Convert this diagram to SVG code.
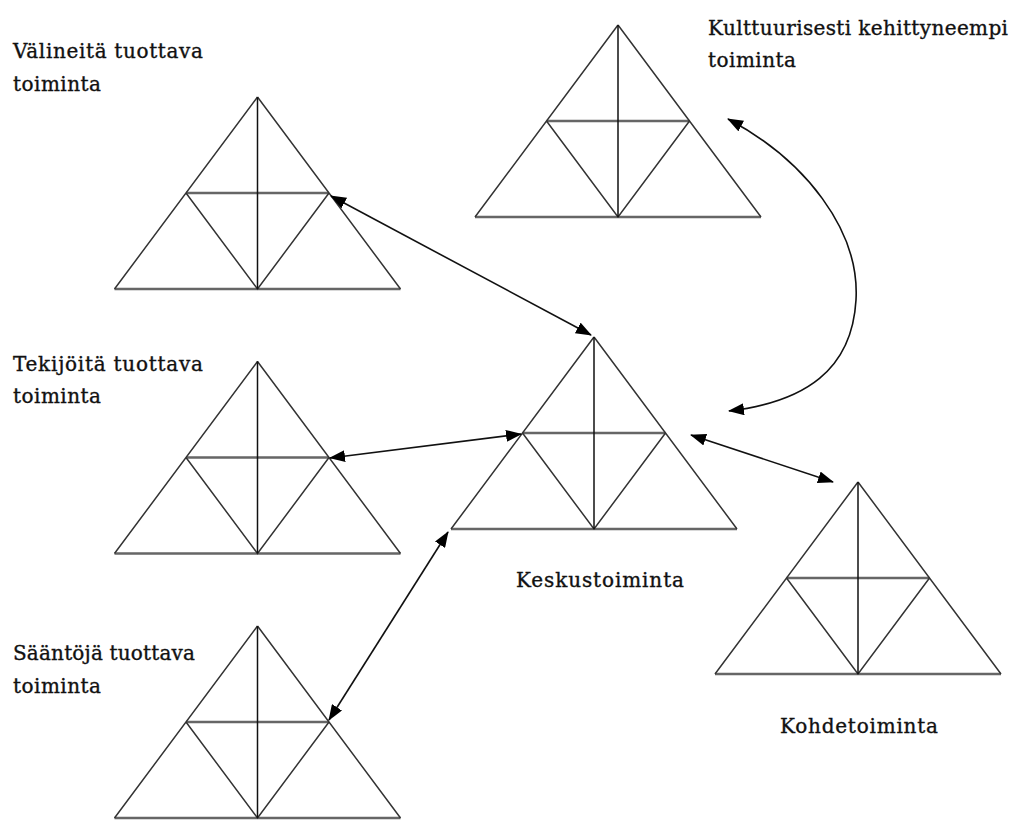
<svg xmlns="http://www.w3.org/2000/svg" xmlns:xlink="http://www.w3.org/1999/xlink" width="1016" height="820" viewBox="0 0 1016 820">
<style>
.side{stroke:#333;stroke-width:1.5;fill:none}
.hor{stroke:#666;stroke-width:2.4;fill:none}
.vert{stroke:#111;stroke-width:1.5;fill:none}
.lbl{font-family:"DejaVu Serif","Liberation Serif",serif;font-size:20px;fill:#111;stroke:#111;stroke-width:0.35}
.conn{stroke:#111;stroke-width:1.6;fill:none;marker-start:url(#ah);marker-end:url(#ah)}
</style>
<defs>
<marker id="ah" viewBox="0 0 16 12" refX="15" refY="6" markerWidth="16" markerHeight="12" markerUnits="userSpaceOnUse" orient="auto-start-reverse">
<path d="M0,0 L16,6 L0,12 z" fill="#000"/>
</marker>
<g id="tri">
<path class="hor" d="M-143,192 H143 M-71.5,96 H71.5"/>
<path class="side" d="M0,0 L-143,192 M0,0 L143,192 M-71.5,96 L0,192 L71.5,96"/>
<path class="vert" d="M0,0 V192"/>
</g>
</defs>
<rect width="1016" height="820" fill="#fff"/>
<g id="node-valineita">
<use xlink:href="#tri" transform="translate(257.5,97)"/>
<text class="lbl" x="13" y="58" textLength="190" lengthAdjust="spacing">Välineitä tuottava</text>
<text class="lbl" x="13" y="91" textLength="88" lengthAdjust="spacing">toiminta</text>
</g>
<g id="node-tekijoita">
<use xlink:href="#tri" transform="translate(257.5,361.5)"/>
<text class="lbl" x="13" y="371" textLength="190" lengthAdjust="spacing">Tekijöitä tuottava</text>
<text class="lbl" x="13" y="403" textLength="88" lengthAdjust="spacing">toiminta</text>
</g>
<g id="node-saantoja">
<use xlink:href="#tri" transform="translate(257.5,626)"/>
<text class="lbl" x="13" y="660" textLength="182" lengthAdjust="spacing">Sääntöjä tuottava</text>
<text class="lbl" x="13" y="693" textLength="88" lengthAdjust="spacing">toiminta</text>
</g>
<g id="node-kulttuurisesti">
<use xlink:href="#tri" transform="translate(618,25)"/>
<text class="lbl" x="708" y="35" textLength="300" lengthAdjust="spacing">Kulttuurisesti kehittyneempi</text>
<text class="lbl" x="708" y="67" textLength="88" lengthAdjust="spacing">toiminta</text>
</g>
<g id="node-keskus">
<use xlink:href="#tri" transform="translate(594,337)"/>
<text class="lbl" x="516" y="587" textLength="168" lengthAdjust="spacing">Keskustoiminta</text>
</g>
<g id="node-kohde">
<use xlink:href="#tri" transform="translate(858,482)"/>
<text class="lbl" x="780" y="733" textLength="158" lengthAdjust="spacing">Kohdetoiminta</text>
</g>
<g id="connectors">
<path class="conn" d="M331,196 L591,335"/>
<path class="conn" d="M330,458 L521,434"/>
<path class="conn" d="M329,720 L448,532"/>
<path class="conn" d="M691,435 L833,482"/>
<path class="conn" d="M728,119 C805,160 860,230 856,300 C852,370 805,402 729,411"/>
</g>
</svg>
